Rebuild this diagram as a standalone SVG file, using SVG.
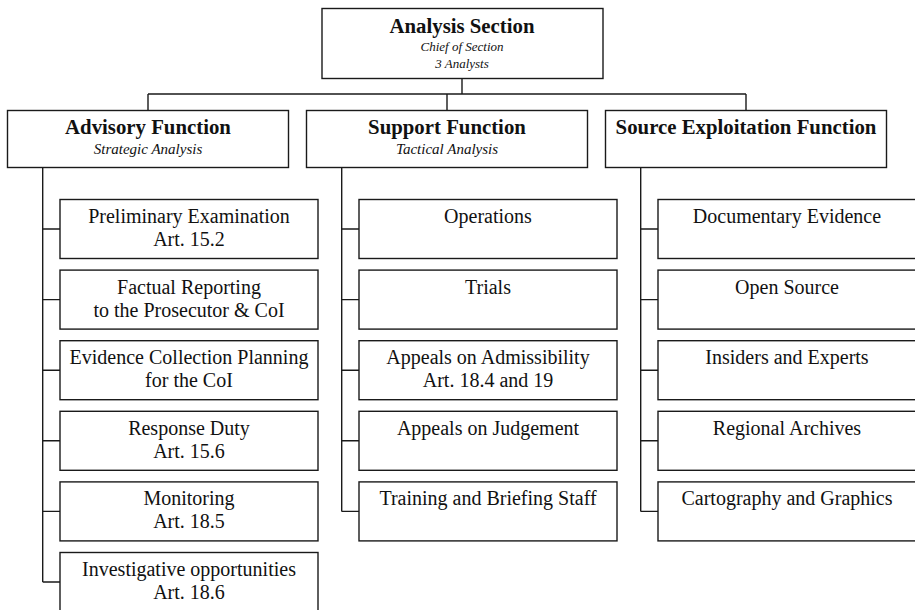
<svg xmlns="http://www.w3.org/2000/svg" width="915" height="610" viewBox="0 0 915 610">
<style>
.box{fill:#fff;stroke:#1a1a1a;stroke-width:1.4}
.ln{fill:none;stroke:#1a1a1a;stroke-width:1.4}
text{font-family:"Liberation Serif","Times New Roman",serif;fill:#111;text-anchor:middle}
.h{font-weight:bold;font-size:20.8px}
.i{font-style:italic;font-size:15px}
.it{font-style:italic;font-size:13px}
.c{font-size:20px}
</style>
<rect width="915" height="610" fill="#fff"/>
<g id="connectors">
<path class="ln" d="M462,78.5V94M148,94H746M148,94V110.5M447,94V110.5M746,94V110.5"/>
<path class="ln" d="M42.7,167.5V582M42.7,229H60M42.7,299.6H60M42.7,370.2H60M42.7,440.8H60M42.7,511.4H60M42.7,582H60"/>
<path class="ln" d="M341.7,167.5V511.4M341.7,229H359M341.7,299.6H359M341.7,370.2H359M341.7,440.8H359M341.7,511.4H359"/>
<path class="ln" d="M640.7,167.5V511.4M640.7,229H658M640.7,299.6H658M640.7,370.2H658M640.7,440.8H658M640.7,511.4H658"/>
</g>
<g id="analysis-section">
<rect class="box" x="322" y="8.5" width="281" height="70"/>
<text class="h" x="462" y="32.5">Analysis Section</text>
<text class="it" x="462" y="51">Chief of Section</text>
<text class="it" x="462" y="68">3 Analysts</text>
</g>
<g id="advisory-function">
<rect class="box" x="7.5" y="110.5" width="281" height="57"/>
<text class="h" x="148" y="134">Advisory Function</text>
<text class="i" x="148" y="154">Strategic Analysis</text>
</g>
<g id="support-function">
<rect class="box" x="306.5" y="110.5" width="281" height="57"/>
<text class="h" x="447" y="134">Support Function</text>
<text class="i" x="447" y="154">Tactical Analysis</text>
</g>
<g id="source-function">
<rect class="box" x="605.5" y="110.5" width="281" height="57"/>
<text class="h" x="746" y="134">Source Exploitation Function</text>
</g>
<g id="adv-1"><rect class="box" x="60" y="199.5" width="258" height="59"/><text class="c" x="189" y="223">Preliminary Examination</text><text class="c" x="189" y="246">Art. 15.2</text></g>
<g id="adv-2"><rect class="box" x="60" y="270.1" width="258" height="59"/><text class="c" x="189" y="293.6">Factual Reporting</text><text class="c" x="189" y="316.6">to the Prosecutor &amp; CoI</text></g>
<g id="adv-3"><rect class="box" x="60" y="340.7" width="258" height="59"/><text class="c" x="189" y="364.2">Evidence Collection Planning</text><text class="c" x="189" y="387.2">for the CoI</text></g>
<g id="adv-4"><rect class="box" x="60" y="411.3" width="258" height="59"/><text class="c" x="189" y="434.8">Response Duty</text><text class="c" x="189" y="457.8">Art. 15.6</text></g>
<g id="adv-5"><rect class="box" x="60" y="481.9" width="258" height="59"/><text class="c" x="189" y="505.4">Monitoring</text><text class="c" x="189" y="528.4">Art. 18.5</text></g>
<g id="adv-6"><rect class="box" x="60" y="552.5" width="258" height="59"/><text class="c" x="189" y="576">Investigative opportunities</text><text class="c" x="189" y="599">Art. 18.6</text></g>
<g id="sup-1"><rect class="box" x="359" y="199.5" width="258" height="59"/><text class="c" x="488" y="223">Operations</text></g>
<g id="sup-2"><rect class="box" x="359" y="270.1" width="258" height="59"/><text class="c" x="488" y="293.6">Trials</text></g>
<g id="sup-3"><rect class="box" x="359" y="340.7" width="258" height="59"/><text class="c" x="488" y="364.2">Appeals on Admissibility</text><text class="c" x="488" y="387.2">Art. 18.4 and 19</text></g>
<g id="sup-4"><rect class="box" x="359" y="411.3" width="258" height="59"/><text class="c" x="488" y="434.8">Appeals on Judgement</text></g>
<g id="sup-5"><rect class="box" x="359" y="481.9" width="258" height="59"/><text class="c" x="488" y="505.4">Training and Briefing Staff</text></g>
<g id="src-1"><rect class="box" x="658" y="199.5" width="258" height="59"/><text class="c" x="787" y="223">Documentary Evidence</text></g>
<g id="src-2"><rect class="box" x="658" y="270.1" width="258" height="59"/><text class="c" x="787" y="293.6">Open Source</text></g>
<g id="src-3"><rect class="box" x="658" y="340.7" width="258" height="59"/><text class="c" x="787" y="364.2">Insiders and Experts</text></g>
<g id="src-4"><rect class="box" x="658" y="411.3" width="258" height="59"/><text class="c" x="787" y="434.8">Regional Archives</text></g>
<g id="src-5"><rect class="box" x="658" y="481.9" width="258" height="59"/><text class="c" x="787" y="505.4">Cartography and Graphics</text></g>
</svg>
